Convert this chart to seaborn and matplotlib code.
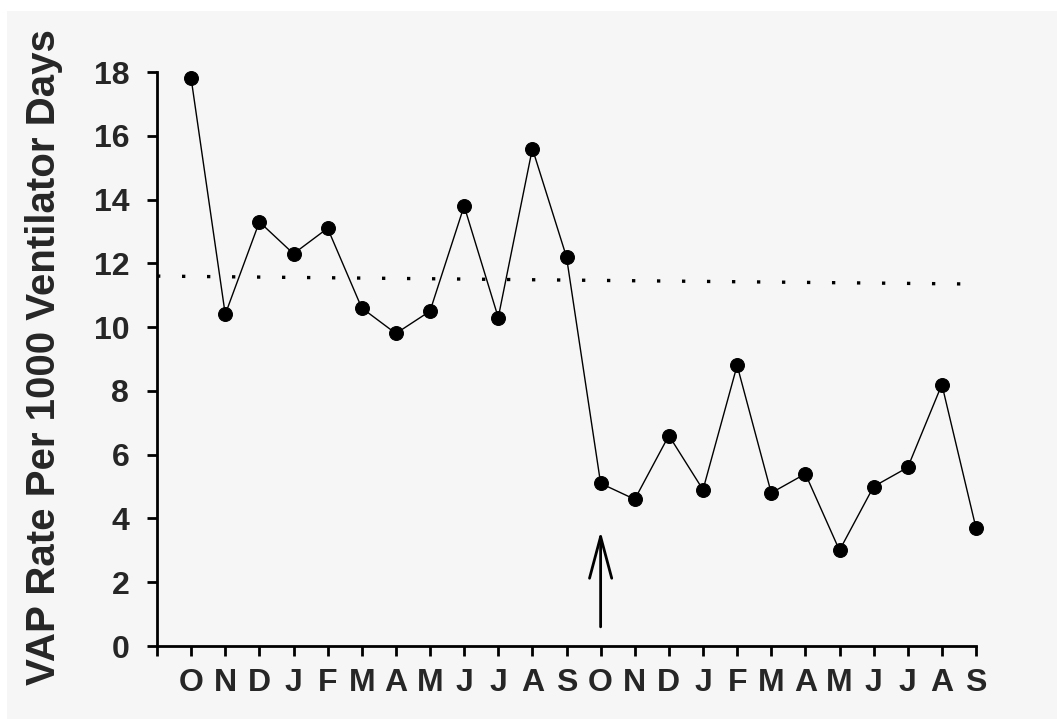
import numpy as np
import pandas as pd
import seaborn as sns
import matplotlib.pyplot as plt
from matplotlib.patches import Rectangle

# data
months = ['O', 'N', 'D', 'J', 'F', 'M', 'A', 'M', 'J', 'J', 'A', 'S',
          'O', 'N', 'D', 'J', 'F', 'M', 'A', 'M', 'J', 'J', 'A', 'S']
vap_rate = [17.8, 10.4, 13.3, 12.3, 13.1, 10.6, 9.8, 10.5, 13.8, 10.3, 15.6, 12.2,
            5.1, 4.6, 6.6, 4.9, 8.8, 4.8, 5.4, 3.0, 5.0, 5.6, 8.2, 3.7]
baseline = [11.6, 11.35]      # dotted reference line, left / right end
arrow_month = 12              # intervention (second O)
arrow_from, arrow_to = 0.6, 3.6

df = pd.DataFrame({'pos': np.arange(len(months)), 'rate': vap_rate})

sns.set_style('ticks')
plt.rcParams['font.family'] = ['Liberation Sans', 'DejaVu Sans']
plt.rcParams['font.weight'] = 'bold'

fig = plt.figure(figsize=(10.57, 7.19), dpi=100, facecolor='white')
fig.patches.append(Rectangle((7/1057, 0), 1, 1 - 11/719, transform=fig.transFigure,
                             facecolor='#f6f6f6', edgecolor='none', zorder=-10))
ax = fig.add_axes([157/1057, 73/719, (976-157)/1057, (646-72)/719])
ax.set_facecolor('none')

#%%
sns.lineplot(data=df, x='pos', y='rate', ax=ax, color='black', lw=1,
             marker='o', markersize=10, markeredgecolor='black', clip_on=False)
ax.plot([-1, len(months)-1], baseline, color='black', lw=2.4, linestyle=(0, (1, 6.5)))
ax.annotate('', xy=(arrow_month, arrow_to), xytext=(arrow_month, arrow_from),
            arrowprops=dict(arrowstyle='->,head_length=1.5,head_width=0.4', lw=2,
                            color='black', mutation_scale=20, shrinkA=0, shrinkB=0))

#%%
ax.set_xlim(-1, len(months)-1)
ax.set_ylim(0, 18)
ax.set_xticks(range(-1, len(months)))
ax.set_xticklabels([''] + months, fontsize=23, fontweight='bold')
ax.set_yticks(range(0, 19, 2))
ax.set_yticklabels([str(v) for v in range(0, 19, 2)], fontsize=23, fontweight='bold')
ax.tick_params(axis='both', width=2, length=7, color='black')
ax.tick_params(axis='x', pad=9)
ax.tick_params(axis='y', pad=13)
ax.set_xlabel('')
ax.set_ylabel('')
sns.despine(ax=ax)
for s in ['left', 'bottom']:
    ax.spines[s].set_linewidth(2)
    ax.spines[s].set_color('black')

fig.text(44/1057, 1 - 357/719, 'VAP Rate Per 1000 Ventilator Days', rotation=90,
         ha='center', va='center', fontsize=29, fontweight='bold')

fig.savefig('out.png', dpi=100, facecolor=fig.get_facecolor())
